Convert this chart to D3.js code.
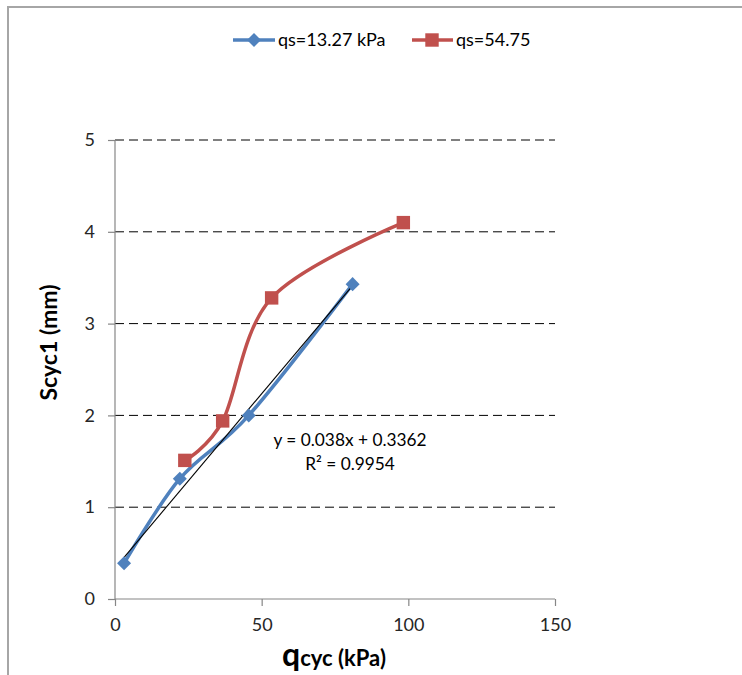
<!DOCTYPE html>
<html><head><meta charset="utf-8">
<script src="https://cdn.jsdelivr.net/npm/d3@7"></script>
<style>body{margin:0;background:#fff}svg{display:block}</style>
</head><body>
<script>
const seriesNames = ["qs=13.27 kPa", "qs=54.75"];
const blueX = [3.1, 22.1, 45.6, 81.0];
const blueY = [0.39, 1.31, 2.00, 3.43];
const redX = [23.8, 36.7, 53.4, 98.3];
const redY = [1.51, 1.94, 3.28, 4.10];
const xTicks = [0, 50, 100, 150];
const yTicks = [0, 1, 2, 3, 4, 5];
const trendSlope = 0.038, trendIntercept = 0.3362;
const trendLabel = "y = 0.038x + 0.3362";
const r2Label = "R² = 0.9954";

const W = 742, H = 675;
const svg = d3.select("body").append("svg").attr("width", W).attr("height", H);
const font = "Lato, 'Open Sans', sans-serif";

// frame
svg.append("rect").attr("x", 8).attr("y", 7).attr("width", W + 20).attr("height", H + 20)
  .attr("fill", "none").attr("stroke", "#a6a6a6").attr("stroke-width", 2);

const x = d3.scaleLinear().domain([0, 150]).range([115, 555]);
const y = d3.scaleLinear().domain([0, 5]).range([599, 140]);

// gridlines
svg.append("g").selectAll("line").data(yTicks.filter(d => d > 0)).join("line")
  .attr("x1", x(0)).attr("x2", x(150)).attr("y1", d => y(d)).attr("y2", d => y(d))
  .attr("stroke", "#000").attr("stroke-width", 1).attr("stroke-dasharray", "9,5");

// axes
const xAxis = svg.append("g").attr("transform", `translate(0,${y(0)})`)
  .call(d3.axisBottom(x).tickValues(xTicks).tickFormat(d3.format("d")).tickSize(7).tickPadding(12));
const yAxis = svg.append("g").attr("transform", `translate(${x(0)},0)`)
  .call(d3.axisLeft(y).tickValues(yTicks).tickFormat(d3.format("d")).tickSize(7).tickPadding(13));
[xAxis, yAxis].forEach(g => {
  g.select(".domain").attr("stroke", "#868686").attr("stroke-width", 1.2);
  g.selectAll(".tick line").attr("stroke", "#868686").attr("stroke-width", 1.2);
  g.selectAll(".tick text").attr("font-family", font).attr("font-size", 18).attr("fill", "#262626");
});
xAxis.select(".domain").attr("d", `M${x(0)},0H${x(150)}`);
yAxis.select(".domain").attr("d", `M0,${y(5)}V${y(0)}`);

const curve = d3.curveCatmullRom.alpha(0);
const line = d3.line().x(d => x(d[0])).y(d => y(d[1])).curve(curve);
const blue = blueX.map((v, i) => [v, blueY[i]]);
const red = redX.map((v, i) => [v, redY[i]]);
const blueC = "#4F81BD", redC = "#C0504D";

svg.append("path").attr("d", line(red)).attr("fill", "none").attr("stroke", redC).attr("stroke-width", 3.5);
svg.append("path").attr("d", line(blue)).attr("fill", "none").attr("stroke", blueC).attr("stroke-width", 3.5);

// trendline
const tx0 = d3.min(blueX), tx1 = d3.max(blueX);
svg.append("line").attr("x1", x(tx0)).attr("y1", y(trendSlope * tx0 + trendIntercept))
  .attr("x2", x(tx1)).attr("y2", y(trendSlope * tx1 + trendIntercept))
  .attr("stroke", "#000").attr("stroke-width", 1.1);

const diamond = d3.symbol().type(d3.symbolDiamond2).size(125);
const square = d3.symbol().type(d3.symbolSquare).size(180);
svg.append("g").selectAll("path").data(blue).join("path")
  .attr("d", diamond).attr("transform", d => `translate(${x(d[0])},${y(d[1])})`).attr("fill", blueC);
svg.append("g").selectAll("path").data(red).join("path")
  .attr("d", square).attr("transform", d => `translate(${x(d[0])},${y(d[1])})`).attr("fill", redC);

// trendline label
svg.append("text").attr("x", 350).attr("y", 446).attr("text-anchor", "middle")
  .attr("font-family", font).attr("font-size", 17.3).attr("fill", "#000").text(trendLabel);
svg.append("text").attr("x", 350).attr("y", 470).attr("text-anchor", "middle")
  .attr("font-family", font).attr("font-size", 17.3).attr("fill", "#000").text(r2Label);

// axis titles
svg.append("text").attr("transform", `translate(57,${(y(0) + y(5)) / 2 - 27}) rotate(-90)`)
  .attr("text-anchor", "middle").attr("font-family", font).attr("font-weight", "bold")
  .attr("font-size", 23).attr("fill", "#000").text("Scyc1 (mm)");
const xt = svg.append("text").attr("x", 334).attr("y", 666).attr("text-anchor", "middle")
  .attr("font-family", font).attr("font-weight", "bold").attr("fill", "#000");
xt.append("tspan").attr("font-size", 32).text("q");
xt.append("tspan").attr("font-size", 22).text("cyc (kPa)");

// legend
const leg = svg.append("g");
const legY = 40;
leg.append("line").attr("x1", 233).attr("x2", 275).attr("y1", legY).attr("y2", legY).attr("stroke", blueC).attr("stroke-width", 3.5);
leg.append("path").attr("d", diamond).attr("transform", `translate(254,${legY})`).attr("fill", blueC);
leg.append("text").attr("x", 278).attr("y", legY + 6).attr("font-family", font).attr("font-size", 18).attr("fill", "#000").text(seriesNames[0]);
leg.append("line").attr("x1", 412).attr("x2", 453).attr("y1", legY).attr("y2", legY).attr("stroke", redC).attr("stroke-width", 3.5);
leg.append("path").attr("d", square).attr("transform", `translate(432,${legY})`).attr("fill", redC);
leg.append("text").attr("x", 456).attr("y", legY + 6).attr("font-family", font).attr("font-size", 18).attr("fill", "#000").text(seriesNames[1]);
</script>
</body></html>
